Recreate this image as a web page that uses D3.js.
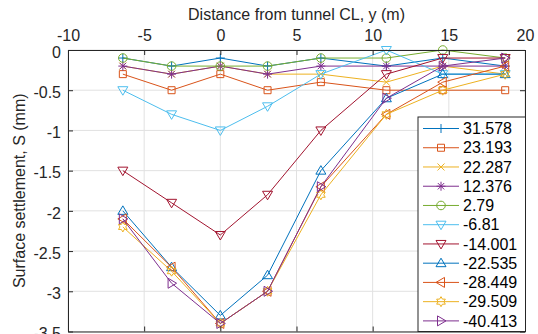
<!DOCTYPE html>
<html>
<head>
<meta charset="utf-8">
<script src="https://cdn.jsdelivr.net/npm/d3@7"></script>
<style>
  body { margin: 0; background: #fff; }
  svg { display: block; font-family: "Liberation Sans", Arial, Helvetica, sans-serif; }
</style>
</head>
<body>
<svg id="chart" width="538" height="334"></svg>
<script>
// distance from tunnel CL (m)
const distances = [-6.4, -3.2, 0, 3.1, 6.6, 10.9, 14.6, 18.7];

const seriesNames = ['31.578', '23.193', '22.287', '12.376', '2.79', '-6.81',
  '-14.001', '-22.535', '-28.449', '-29.509', '-40.413'];

const s31578 = [-0.1, -0.2, -0.1, -0.2, -0.1, -0.2, -0.1, -0.2];
const s23193 = [-0.3, -0.5, -0.3, -0.5, -0.4, -0.5, -0.5, -0.5];
const s22287 = [-0.2, -0.3, -0.2, -0.3, -0.3, -0.4, -0.2, -0.3];
const s12376 = [-0.2, -0.3, -0.2, -0.3, -0.2, -0.2, -0.2, -0.2];
const s279 = [-0.1, -0.2, -0.2, -0.2, -0.1, -0.1, 0, -0.1];
const sM681 = [-0.5, -0.8, -1.0, -0.7, -0.3, 0, -0.3, -0.3];
const sM14001 = [-1.5, -1.9, -2.3, -1.8, -1.0, -0.3, -0.1, -0.1];
const sM22535 = [-2.0, -2.7, -3.3, -2.8, -1.5, -0.6, -0.3, -0.3];
const sM28449 = [-2.1, -2.7, -3.4, -3.0, -1.7, -0.8, -0.4, -0.2];
const sM29509 = [-2.2, -2.75, -3.4, -3.0, -1.8, -0.8, -0.5, -0.3];
const sM40413 = [-2.1, -2.9, -3.4, -3.0, -1.7, -0.6, -0.2, -0.1];

const seriesValues = [s31578, s23193, s22287, s12376, s279, sM681,
  sM14001, sM22535, sM28449, sM29509, sM40413];

const xTicks = [-10, -5, 0, 5, 10, 15, 20];
const yTicks = [0, -0.5, -1, -1.5, -2, -2.5, -3, -3.5];

const colors = ['#0072BD', '#D95319', '#EDB120', '#7E2F8E', '#77AC30', '#4DBEEE',
  '#A2142F', '#0072BD', '#D95319', '#EDB120', '#7E2F8E'];
const markers = ['plus', 'square', 'x', 'asterisk', 'circle', 'down',
  'down', 'up', 'left', 'hexagram', 'right'];

const margin = { left: 68, top: 50, right: 13, bottom: 2.5 };
const width = 538, height = 334;
const fontSize = 16;

const svg = d3.select('#chart');

const xScale = d3.scaleLinear().domain([-10, 20]).range([margin.left, width - margin.right]);
const yScale = d3.scaleLinear().domain([-3.5, 0]).range([height - margin.bottom, margin.top]);

function markerPath(type) {
  const p = d3.path();
  switch (type) {
    case 'plus':
      p.moveTo(-4.5, 0); p.lineTo(4.5, 0); p.moveTo(0, -4.5); p.lineTo(0, 4.5);
      break;
    case 'x':
      p.moveTo(-3.5, -3.5); p.lineTo(3.5, 3.5); p.moveTo(-3.5, 3.5); p.lineTo(3.5, -3.5);
      break;
    case 'asterisk':
      p.moveTo(-4.5, 0); p.lineTo(4.5, 0); p.moveTo(0, -4.5); p.lineTo(0, 4.5);
      p.moveTo(-3.2, -3.2); p.lineTo(3.2, 3.2); p.moveTo(-3.2, 3.2); p.lineTo(3.2, -3.2);
      break;
    case 'square':
      p.rect(-3.5, -3.5, 7, 7);
      break;
    case 'circle':
      p.arc(0, 0, 4.3, 0, 2 * Math.PI);
      break;
    case 'down':
      p.moveTo(-5, -3.5); p.lineTo(5, -3.5); p.lineTo(0, 5); p.closePath();
      break;
    case 'up':
      p.moveTo(-5, 3.5); p.lineTo(5, 3.5); p.lineTo(0, -5); p.closePath();
      break;
    case 'left':
      p.moveTo(3.5, -5); p.lineTo(3.5, 5); p.lineTo(-5, 0); p.closePath();
      break;
    case 'right':
      p.moveTo(-3.5, -5); p.lineTo(-3.5, 5); p.lineTo(5, 0); p.closePath();
      break;
    case 'hexagram': {
      const outer = 5, inner = 2.9;
      for (let i = 0; i < 12; i++) {
        const r = i % 2 === 0 ? outer : inner;
        const a = -Math.PI / 2 + i * Math.PI / 6;
        if (i === 0) p.moveTo(r * Math.cos(a), r * Math.sin(a));
        else p.lineTo(r * Math.cos(a), r * Math.sin(a));
      }
      p.closePath();
      break;
    }
  }
  return p.toString();
}

// Grid
const grid = svg.append('g').attr('class', 'grid');
grid.selectAll('.gx')
  .data(xTicks)
  .enter()
  .append('line')
  .attr('x1', d => xScale(d))
  .attr('x2', d => xScale(d))
  .attr('y1', yScale(0))
  .attr('y2', yScale(-3.5))
  .attr('stroke', '#e1e1e1')
  .attr('stroke-width', 1);
grid.selectAll('.gy')
  .data(yTicks)
  .enter()
  .append('line')
  .attr('x1', xScale(-10))
  .attr('x2', xScale(20))
  .attr('y1', d => yScale(d))
  .attr('y2', d => yScale(d))
  .attr('stroke', '#e1e1e1')
  .attr('stroke-width', 1);

// Series
const line = d3.line()
  .x((v, i) => xScale(distances[i]))
  .y(v => yScale(v));

const plot = svg.append('g').attr('class', 'series');
seriesValues.forEach((values, k) => {
  const g = plot.append('g');
  g.append('path')
    .datum(values)
    .attr('d', line)
    .attr('fill', 'none')
    .attr('stroke', colors[k])
    .attr('stroke-width', 1)
    .attr('stroke-linejoin', 'round');
  g.selectAll('.marker')
    .data(values)
    .enter()
    .append('path')
    .attr('class', 'marker')
    .attr('transform', (v, i) => `translate(${xScale(distances[i])},${yScale(v)})`)
    .attr('d', markerPath(markers[k]))
    .attr('fill', 'none')
    .attr('stroke', colors[k])
    .attr('stroke-width', 1);
});

// Axes (plain hyphen for negatives, like the original)
const fmt = d => String(d);
const xAxisTop = d3.axisTop(xScale).tickValues(xTicks).tickSizeInner(-5).tickSizeOuter(0).tickPadding(9)
  .tickFormat(fmt);
const xAxisBottom = d3.axisBottom(xScale).tickValues(xTicks).tickSizeInner(-5).tickSizeOuter(0).tickFormat('');
const yAxisLeft = d3.axisLeft(yScale).tickValues(yTicks).tickSizeInner(-5).tickSizeOuter(0).tickPadding(7)
  .tickFormat(fmt);
const yAxisRight = d3.axisRight(yScale).tickValues(yTicks).tickSizeInner(-5).tickSizeOuter(0).tickFormat('');

function styleAxis(g) {
  g.select('.domain').attr('stroke', '#262626').attr('stroke-width', 1);
  g.selectAll('.tick line').attr('stroke', '#262626');
  g.selectAll('.tick text').attr('fill', '#262626').attr('font-size', fontSize)
    .attr('font-family', '"Liberation Sans", Arial, sans-serif');
}

svg.append('g').attr('transform', `translate(0,${yScale(0)})`).call(xAxisTop).call(styleAxis);
svg.append('g').attr('transform', `translate(0,${yScale(-3.5)})`).call(xAxisBottom).call(styleAxis);
svg.append('g').attr('transform', `translate(${xScale(-10)},0)`).call(yAxisLeft).call(styleAxis)
  .selectAll('.tick text').attr('dy', '0.45em');
svg.append('g').attr('transform', `translate(${xScale(20)},0)`).call(yAxisRight).call(styleAxis);

// Titles
svg.append('text')
  .attr('x', (xScale(-10) + xScale(20)) / 2)
  .attr('y', 20)
  .attr('text-anchor', 'middle')
  .attr('font-size', fontSize)
  .attr('fill', '#262626')
  .text('Distance from tunnel CL, y (m)');

svg.append('text')
  .attr('transform', `translate(25,${(yScale(0) + yScale(-3.5)) / 2}) rotate(-90)`)
  .attr('text-anchor', 'middle')
  .attr('font-size', fontSize)
  .attr('fill', '#262626')
  .text('Surface settlement, S (mm)');

// Legend
const legendX = 418, legendY = 117, legendW = 107.5, legendH = height - margin.bottom - legendY;
const legend = svg.append('g').attr('class', 'legend');
legend.append('rect')
  .attr('x', legendX)
  .attr('y', legendY)
  .attr('width', legendW)
  .attr('height', legendH)
  .attr('fill', '#fff')
  .attr('stroke', '#262626')
  .attr('stroke-width', 1);

const rowY = i => legendY + 11.5 + i * 19.24;
const items = legend.selectAll('.item')
  .data(seriesNames)
  .enter()
  .append('g')
  .attr('class', 'item')
  .attr('transform', (d, i) => `translate(0,${rowY(i)})`);
items.append('line')
  .attr('x1', 423)
  .attr('x2', 459)
  .attr('stroke', (d, i) => colors[i])
  .attr('stroke-width', 1);
items.append('path')
  .attr('transform', 'translate(441,0)')
  .attr('d', (d, i) => markerPath(markers[i]))
  .attr('fill', 'none')
  .attr('stroke', (d, i) => colors[i])
  .attr('stroke-width', 1);
items.append('text')
  .attr('x', 463)
  .attr('dy', '0.35em')
  .attr('font-size', fontSize)
  .attr('fill', '#000')
  .text(d => d);
</script>
</body>
</html>
